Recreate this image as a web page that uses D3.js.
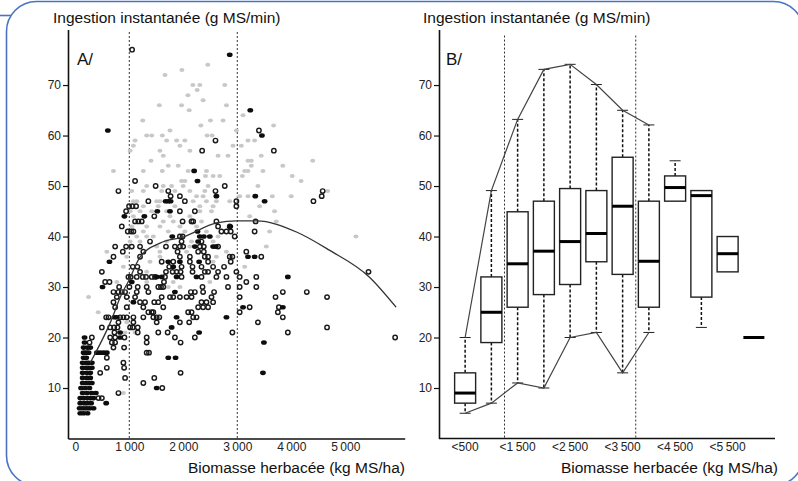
<!DOCTYPE html>
<html><head><meta charset="utf-8">
<script src="https://cdn.jsdelivr.net/npm/d3@7"></script>
<style>
html,body{margin:0;padding:0;background:#fff;}
svg{display:block;font-family:"Liberation Sans",Arial,Helvetica,sans-serif;}
</style></head><body>
<svg id="c" width="798" height="481"></svg>
<script>
// ---------- DATA ----------
const yTicks = [10, 20, 30, 40, 50, 60, 70];
const xTicksA = [0, 1000, 2000, 3000, 4000, 5000];
const xTickLabelsA = ["0", "1\u2009000", "2\u2009000", "3\u2009000", "4\u2009000", "5\u2009000"];
const dividersA = [1000, 3000];
const yTitle = "Ingestion instantanée (g MS/min)";
const xTitle = "Biomasse herbacée (kg MS/ha)";

// fitted curve
const curvePts = [[277,15],[646,22.9],[867,28.8],[978,31],[1199,35.9],[1568,38.7],[1993,39.9],[2620,42.7],[2989,43.1],[3358,43.1],[4096,40.9],[4705,37.3],[5443,32],[5941,26]];

const grayPts = [
[2454,74],[1974,73],[1661,72],[2177,70],[2306,70],[2768,70],[2257,69],[2085,68],[2367,67],[1556,66],[1968,66],[2799,66],[2109,65],[3106,64],[1249,63],[2503,63],[2736,63],
[2325,62],[3672,62],[1753,61],[2983,61],[1322,60],[1415,60],[1611,60],[2441,60],[2533,60],
[1107,59],[1691,59],[1876,59],[2029,59],[3198,59],[3321,59],[1076,58],[1937,58],[2921,58],[3075,58],
[1015,57],[1568,57],[2122,57],[1629,56],[2644,56],[2828,56],[3444,56],[1402,55],[3198,55],[3260,55],[4397,55],
[1722,54],[1906,54],[3260,54],[3843,54],[707,53],[1260,53],[1611,53],[2090,53],[2429,53],[3137,53],[3198,53],[3475,53],
[2411,52],[2552,52],[2675,52],[3094,52],[4016,52],[1968,51],[2029,51],[4182,51],
[1322,50],[1629,50],[1784,50],[1998,50],[2459,50],[3382,50],
[1046,49],[1260,49],[1600,49],[1845,49],[2122,49],[2398,49],[4673,49],
[2245,48],[2367,48],[3044,48],[3198,48],[3648,48],[3998,48],
[1076,47],[1138,47],[1507,47],[1568,47],[2183,47],[2429,47],[2613,47],[2860,47],
[1260,46],[1537,46],[1845,46],[2306,46],[2552,46],[3413,46],
[1015,45],[1199,45],[1415,45],[1691,45],[2306,45],[2522,45],[3690,45],
[1076,44],[1753,44],[2122,44],[3229,44],[1629,43],[1814,43],[2337,43],[3721,43],
[1046,42],[1322,42],[1568,42],[1937,42],[2245,42],[1260,41],[1722,41],[2029,41],[2429,41],[3598,41],
[1138,40],[1322,40],[1445,40],[2644,40],[5197,40],[1015,39],[1199,39],[1691,39],[2153,39],[2552,39],
[1507,38],[2122,38],[3537,38],[584,37],[1568,37],[2060,37],[2799,37],[953,36],[1568,36],[2613,36],
[1384,35],[2552,35],[891,34],[3137,34],[1322,33],[769,31],[1322,31],[1814,31],[2491,31],
[1722,30],[1937,30],[246,28],[425,25],[953,23],[922,21],[1107,21],[891,9]
];

const openPts = [
[1052,77],[3401,61],[2596,59],[2349,57],[3677,57],[1107,51],[1488,50],[2768,50],
[799,49],[1722,49],[2596,49],[4581,49],[1765,48],[1937,48],[4563,48],
[1353,47],[2029,47],[2983,47],[4410,47],[996,46],[1058,46],[1126,46],[2983,46],
[941,45],[1937,45],[2214,45],[1463,44],
[1107,43],[1168,43],[1230,43],[1987,43],[2153,43],[2183,43],[2613,43],[3339,43],
[861,42],[2644,42],[2860,42],[972,41],[1033,41],[1076,41],[2706,41],[2799,41],[2878,41],[3321,41],
[1937,40],[1987,40],[2952,40],[1384,39],[1968,39],[2337,39],
[738,38],[941,38],[1046,38],[1199,38],[1679,38],[1845,38],[1937,38],[1998,38],[2306,38],[2380,38],[2644,38],
[880,37],[1260,37],[1894,37],[2275,37],[2380,37],[3167,37],
[707,36],[1199,36],[1937,36],[2122,36],[2398,36],[2459,36],[2860,36],[2909,36],[3444,36],
[1600,35],[1814,35],[2122,35],[2459,35],[2878,35],
[1064,34],[1150,34],[1740,34],[1968,34],[2171,34],[2337,34],[2552,34],[2755,34],
[492,33],[1199,33],[1679,33],[1802,33],[1876,33],[1950,33],[2171,33],[2398,33],[2459,33],[2644,33],[2983,33],[5430,33],
[984,32],[1027,32],[1138,32],[1249,32],[1310,32],[1415,32],[1476,32],[1661,32],[1968,32],[2337,32],[2613,32],[2799,32],[3044,32],[3352,32],
[553,31],[633,31],[1642,31],[3167,31],
[812,30],[1002,30],[1156,30],[1322,30],[1537,30],[1587,30],[1629,30],[2356,30],[2828,30],[3044,30],[3352,30],
[707,29],[799,29],[861,29],[922,29],[1138,29],[1353,29],[2140,29],[2214,29],[2367,29],[2570,29],[3843,29],[4287,29],
[769,28],[953,28],[1107,28],[1600,28],[1753,28],[1814,28],[1937,28],[2060,28],[2153,28],[2522,28],[3044,28],[3708,28],[4662,28],
[707,27],[1199,27],[1291,27],[1463,27],[1537,27],[2337,27],[2429,27],[2552,27],
[738,26],[953,26],[1260,26],[1629,26],[2275,26],[2367,26],[2459,26],[3229,26],[3770,26],
[1353,25],[1415,25],[1445,25],[2090,25],[2153,25],[3044,25],[3751,25],
[572,24],[615,24],[830,24],[891,24],[953,24],[1076,24],[1260,24],[1445,24],[1507,24],[1556,24],[2183,24],[2245,24],[3843,24],
[799,23],[1076,23],[1507,23],[1937,23],[2109,23],[3382,23],
[492,22],[646,22],[720,22],[781,22],[1015,22],[1064,22],[1156,22],[4662,22],
[725,21],[1156,21],[1537,21],[1710,21],[2909,21],[3936,21],
[307,20],[646,20],[738,20],[910,20],[1322,20],[1845,20],[2214,20],[5923,20],
[264,19],[677,19],[738,19],[1322,19],[1950,19],[707,18],[904,18],[1322,17],[1365,17],
[584,16],[891,15],[584,14],[904,14],[461,13],[1950,13],[922,12],[1463,12],[1260,11],[1611,10],[799,9],[430,8],[492,8]
];

const filledPts = [
[2860,76],[3241,65],[603,61],[3456,60],[2201,53],[2263,51],[2613,48],[3333,48],[1673,47],[1722,47],[1765,47],[3506,47],
[1519,45],[1753,45],[910,44],[1279,44],[2870,42],[2263,41],[1796,40],[2306,40],[2380,40],[2491,40],[2275,39],
[2214,38],[2552,38],[2601,38],[3198,36],[3321,36],[633,35],[1722,35],[1937,35],[2293,35],[1814,34],
[1507,32],[1600,32],[1876,32],[2245,32],[3936,32],[1046,31],[504,30],[1845,29],[1076,27],
[3106,26],[3843,26],[725,24],[769,24],[1876,24],[2799,24],[1784,22],[830,21],[2293,21],
[172,20],[830,20],[172,19],[3493,19],[154,18],[227,18],[277,18],
[154,17],[200,17],[246,17],[400,17],[461,17],[523,17],[584,17],[154,16],[203,16],[1722,16],[1857,16],
[136,15],[200,15],[246,15],[307,15],[136,14],[200,14],[246,14],[307,14],
[136,13],[216,13],[277,13],[3475,13],[136,12],[216,12],[277,12],
[136,11],[200,11],[246,11],[307,11],[106,10],[180,10],[262,10],[1507,10],
[136,9],[216,9],[303,9],[381,9],[92,8],[154,8],[221,8],[277,8],[338,8],
[92,7],[166,7],[221,7],[293,7],[572,7],[80,6],[141,6],[203,6],[264,6],[338,6],[92,5],[154,5],[227,5]
];

// Panel B
const categories = ["<500","<1 000","<1 500","<2 000","<2 500","<3 000","<3 500","<4 000","<4 500","<5 000","<5 500","<6 000"];
const shownLabels = ["<500","<1\u2009500","<2\u2009500","<3\u2009500","<4\u2009500","<5\u2009500"];
const whiskLow  = [5, 7, 11, 10, 20, 21, 13, 21, 47, 22, 33, 20];
const q1        = [7, 19, 26, 28.5, 30.5, 35, 32.5, 26, 47, 28, 33, 20];
const med       = [9, 25, 34.6, 37.1, 39, 40.6, 46, 35.1, 49.7, 48.1, 36.6, 20];
const q3        = [13, 32, 44.9, 47, 49.5, 49.1, 55.7, 47, 52, 49.1, 40, 20];
const whiskHigh = [20, 49.1, 63.2, 73.1, 74.1, 70.1, 65, 62.1, 55, 49.1, 40, 20];
const envelopeCats = categories.slice(0, 8);
const dividersB = ["<1 000", "<3 500"];

// ---------- DRAW ----------
const svg = d3.select("#c");
const ink = "#111";

// frame
svg.append("rect").attr("x",6.5).attr("y",1.5).attr("width",797).attr("height",484)
  .attr("rx",30).attr("ry",30).attr("fill","none").attr("stroke","#4a74c3").attr("stroke-width",1.6);
svg.append("line").attr("x1",0).attr("x2",11).attr("y1",15.5).attr("y2",15.5)
  .attr("stroke","#4a74c3").attr("stroke-width",1.6);

const y = d3.scaleLinear().domain([0, 81]).range([438.5, 29.5]);

// ===== Panel A =====
const xA = d3.scaleLinear().domain([-135, 6100]).range([68, 404.7]);
const gA = svg.append("g");

gA.selectAll("line.div").data(dividersA).join("line")
  .attr("x1", d=>xA(d)).attr("x2", d=>xA(d)).attr("y1", y(80.5)).attr("y2", y(0))
  .attr("stroke","#333").attr("stroke-width",1).attr("stroke-dasharray","2,2");

gA.selectAll("ellipse.g").data(grayPts).join("ellipse")
  .attr("cx", d=>xA(d[0])).attr("cy", d=>y(d[1])).attr("rx",2.5).attr("ry",2)
  .attr("fill","#c8c8c8");
gA.selectAll("circle.o").data(openPts).join("circle")
  .attr("cx", d=>xA(d[0])).attr("cy", d=>y(d[1])).attr("r",2.2)
  .attr("fill","none").attr("stroke","#1a1a1a").attr("stroke-width",1.45);
gA.selectAll("ellipse.f").data(filledPts).join("ellipse")
  .attr("cx", d=>xA(d[0])).attr("cy", d=>y(d[1])).attr("rx",2.9).attr("ry",2.3)
  .attr("fill","#0d0d0d");

gA.append("path").datum(curvePts)
  .attr("d", d3.line().x(d=>xA(d[0])).y(d=>y(d[1])).curve(d3.curveMonotoneX))
  .attr("fill","none").attr("stroke","#333").attr("stroke-width",1.3);

const axA_y = gA.append("g").attr("transform","translate(68,0)")
  .call(d3.axisLeft(y).tickValues(yTicks).tickSize(5).tickPadding(2).tickSizeOuter(0));
const axA_x = gA.append("g").attr("transform",`translate(0,${y(0)})`)
  .call(d3.axisBottom(xA).tickValues(xTicksA).tickSize(0).tickPadding(4)
    .tickFormat((d,i)=>xTickLabelsA[i]).tickSizeOuter(0));

gA.append("text").attr("x",53).attr("y",22.5).attr("font-size",15.5).attr("fill",ink).text(yTitle);
gA.append("text").attr("x",77).attr("y",65).attr("font-size",17).attr("fill",ink).text("A/");
gA.append("text").attr("x",405).attr("y",472.7).attr("text-anchor","end").attr("font-size",15.5).attr("fill",ink).text(xTitle);

// ===== Panel B =====
const xB = d3.scaleBand().domain(categories).range([452, 767]).paddingInner(0.2).paddingOuter(0.1);
const gB = svg.append("g");
const bw = xB.bandwidth();
const cx = c => xB(c) + bw/2;
const capW = 11;

gB.selectAll("line.div").data(dividersB).join("line")
  .attr("x1", d=>xB(d)+bw+(xB.step()-bw)/2).attr("x2", d=>xB(d)+bw+(xB.step()-bw)/2)
  .attr("y1", y(79.8)).attr("y2", y(0))
  .attr("stroke","#333").attr("stroke-width",1).attr("stroke-dasharray","2,2");

const boxes = categories.map((c,i)=>({c, lo:whiskLow[i], q1:q1[i], med:med[i], q3:q3[i], hi:whiskHigh[i]}));

// whiskers (dashed)
gB.selectAll("line.wu").data(boxes.filter(b=>b.hi>b.q3)).join("line")
  .attr("x1", b=>cx(b.c)).attr("x2", b=>cx(b.c)).attr("y1", b=>y(b.q3)).attr("y2", b=>y(b.hi))
  .attr("stroke",ink).attr("stroke-width",1.5).attr("stroke-dasharray","3,2");
gB.selectAll("line.wl").data(boxes.filter(b=>b.lo<b.q1)).join("line")
  .attr("x1", b=>cx(b.c)).attr("x2", b=>cx(b.c)).attr("y1", b=>y(b.q1)).attr("y2", b=>y(b.lo))
  .attr("stroke",ink).attr("stroke-width",1.5).attr("stroke-dasharray","3,2");
// caps
gB.selectAll("line.cu").data(boxes.filter(b=>b.hi>b.q3)).join("line")
  .attr("x1", b=>cx(b.c)-capW/2).attr("x2", b=>cx(b.c)+capW/2).attr("y1", b=>y(b.hi)).attr("y2", b=>y(b.hi))
  .attr("stroke","#222").attr("stroke-width",1);
gB.selectAll("line.cl").data(boxes.filter(b=>b.lo<b.q1)).join("line")
  .attr("x1", b=>cx(b.c)-capW/2).attr("x2", b=>cx(b.c)+capW/2).attr("y1", b=>y(b.lo)).attr("y2", b=>y(b.lo))
  .attr("stroke","#222").attr("stroke-width",1);

// envelope lines
const env = boxes.filter(b=>envelopeCats.includes(b.c));
gB.append("path").datum(env).attr("d", d3.line().x(b=>cx(b.c)).y(b=>y(b.hi)))
  .attr("fill","none").attr("stroke","#444").attr("stroke-width",1.2);
gB.append("path").datum(env).attr("d", d3.line().x(b=>cx(b.c)).y(b=>y(b.lo)))
  .attr("fill","none").attr("stroke","#444").attr("stroke-width",1.2);

// boxes
gB.selectAll("rect.box").data(boxes.filter(b=>b.q3>b.q1)).join("rect")
  .attr("x", b=>xB(b.c)).attr("width", bw).attr("y", b=>y(b.q3)).attr("height", b=>y(b.q1)-y(b.q3))
  .attr("fill","#fff").attr("stroke","#222").attr("stroke-width",1.4);
gB.selectAll("line.med").data(boxes).join("line")
  .attr("x1", b=>xB(b.c)).attr("x2", b=>xB(b.c)+bw).attr("y1", b=>y(b.med)).attr("y2", b=>y(b.med))
  .attr("stroke","#000").attr("stroke-width",3);

const axB_y = gB.append("g").attr("transform","translate(439,0)")
  .call(d3.axisLeft(y).tickValues(yTicks).tickSize(5).tickPadding(2).tickSizeOuter(0));
const lblMap = {"<500":"<500","<1 500":shownLabels[1],"<2 500":shownLabels[2],"<3 500":shownLabels[3],"<4 500":shownLabels[4],"<5 500":shownLabels[5]};
const axB_x = gB.append("g").attr("transform",`translate(0,${y(0)})`)
  .call(d3.axisBottom(xB).tickSize(0).tickPadding(4).tickFormat(c=>lblMap[c]||"").tickSizeOuter(0));
axB_x.select(".domain").attr("d", `M439,0H775`);

gB.append("text").attr("x",423).attr("y",22.5).attr("font-size",15.5).attr("fill",ink).text(yTitle);
gB.append("text").attr("x",446).attr("y",65).attr("font-size",17).attr("fill",ink).text("B/");
gB.append("text").attr("x",778).attr("y",472.7).attr("text-anchor","end").attr("font-size",15.5).attr("fill",ink).text(xTitle);

// axis styling
svg.selectAll(".domain").attr("stroke",ink).attr("stroke-width",1.6);
svg.selectAll(".tick line").attr("stroke",ink).attr("stroke-width",1.2);
svg.selectAll(".tick text").attr("font-size",12).attr("fill","#222")
  .attr("font-family","'Liberation Sans',Arial,sans-serif");
</script>
</body></html>
